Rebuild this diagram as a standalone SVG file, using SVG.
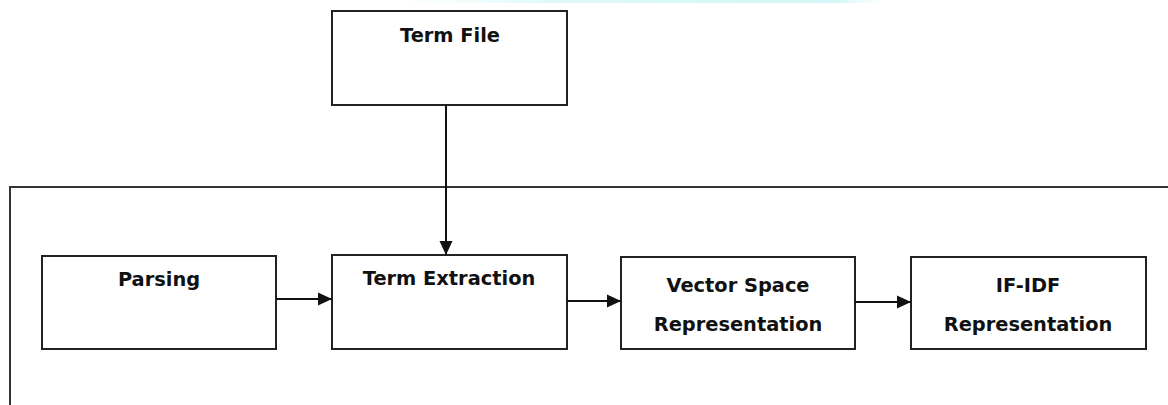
<svg xmlns="http://www.w3.org/2000/svg" width="1168" height="405" viewBox="0 0 1168 405">
<style>
.box{fill:#fff;stroke:#222;stroke-width:2}
.frame{fill:none;stroke:#333;stroke-width:2}
.lbl{font-family:"DejaVu Sans",sans-serif;font-weight:bold;font-size:19.4px;fill:#111;text-anchor:middle}
.conn{stroke:#111;stroke-width:2;fill:none;marker-end:url(#ah)}
</style>
<defs>
<marker id="ah" markerUnits="userSpaceOnUse" markerWidth="16" markerHeight="16" refX="14" refY="8" orient="auto">
<path d="M0,1.5 L14,8 L0,14.5 Z" fill="#111"/>
</marker>
<linearGradient id="glow" x1="0" x2="1" y1="0" y2="0">
<stop offset="0" stop-color="#e6fbfb" stop-opacity="0"/>
<stop offset="0.3" stop-color="#e0fafa"/>
<stop offset="0.9" stop-color="#d2f6f7"/>
<stop offset="1" stop-color="#d2f6f7" stop-opacity="0"/>
</linearGradient>
</defs>
<rect width="1168" height="405" fill="#fff"/>
<rect x="400" y="0" width="480" height="3" fill="url(#glow)"/>
<g id="frame">
<rect class="frame" x="10" y="187" width="1200" height="260"/>
</g>
<g id="term-file">
<rect class="box" x="332" y="11" width="235" height="94"/>
<text class="lbl" x="450" y="42">Term File</text>
</g>
<g id="parsing">
<rect class="box" x="42" y="256" width="234" height="93"/>
<text class="lbl" x="159" y="286">Parsing</text>
</g>
<g id="term-extraction">
<rect class="box" x="332" y="255" width="235" height="94"/>
<text class="lbl" x="449" y="285">Term Extraction</text>
</g>
<g id="vector-space">
<rect class="box" x="621" y="257" width="234" height="92"/>
<text class="lbl" x="738" y="292">Vector Space</text>
<text class="lbl" x="738" y="331">Representation</text>
</g>
<g id="tf-idf">
<rect class="box" x="911" y="257" width="235" height="92"/>
<text class="lbl" x="1028" y="292">IF-IDF</text>
<text class="lbl" x="1028" y="331">Representation</text>
</g>
<g id="connectors">
<line class="conn" x1="446" y1="105" x2="446" y2="255"/>
<line class="conn" x1="276" y1="299" x2="332" y2="299"/>
<line class="conn" x1="567" y1="301" x2="621" y2="301"/>
<line class="conn" x1="855" y1="302" x2="911" y2="302"/>
</g>
</svg>
